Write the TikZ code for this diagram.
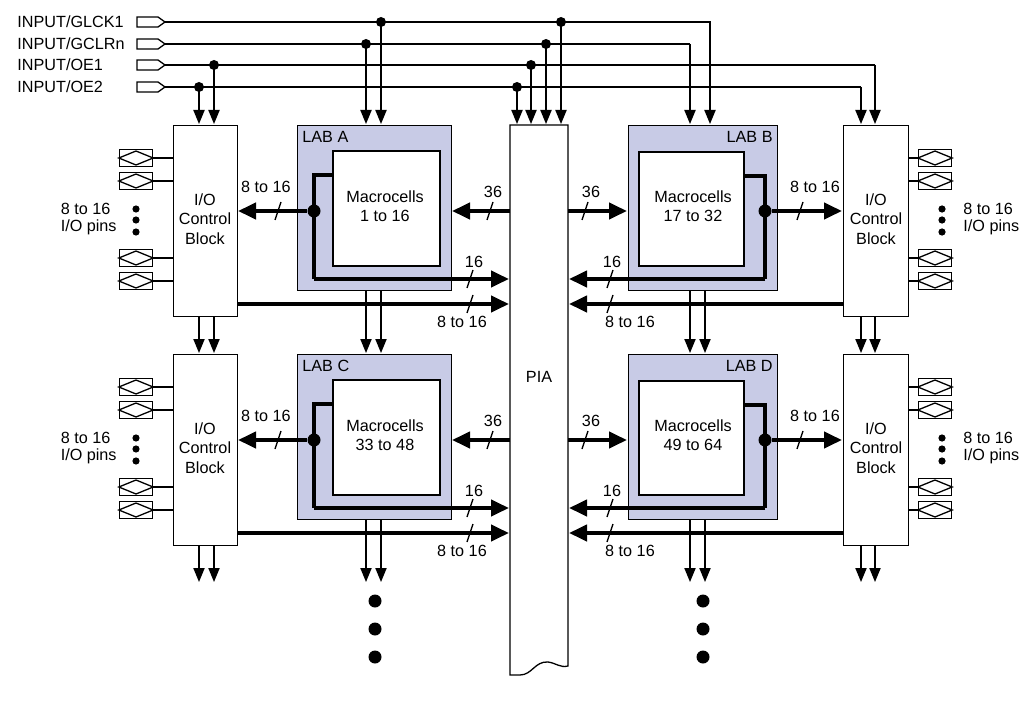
\documentclass[tikz,border=0pt]{standalone}
\usepackage{fontspec}
\setmainfont{Liberation Sans}
\usetikzlibrary{arrows.meta}
\definecolor{labfill}{RGB}{200,203,230}
\begin{document}
\begin{tikzpicture}[x=0.5pt,y=-0.5pt,
  every node/.style={font=\fontsize{8.1}{9}\selectfont, inner sep=0pt},
  thin line/.style={line width=0.65pt},
  sig/.style={thin line,-{Triangle[length=7pt,width=5.6pt]}},
  bus/.style={line width=2pt,-{Triangle[length=9pt,width=8pt]}},
  busline/.style={line width=2pt},
  box/.style={draw,thin line,fill=white},
  lab/.style={draw,thin line,fill=labfill},
  jn/.style={circle,fill,inner sep=0pt,minimum size=5pt},
  bigdot/.style={circle,fill,inner sep=0pt,minimum size=6.5pt},
  pinbuf/.style={draw,thin line,minimum width=16.5pt,minimum height=8.5pt}]
\useasboundingbox (0,0) rectangle (1034,701);
% inputs
\foreach \y/\t/\n in {22/INPUT\slash GLCK1/a,44/INPUT\slash GCLRn/b,65/INPUT\slash OE1/c,87/INPUT\slash OE2/d}{
  \node[anchor=west] (lbl\n) at (17,\y) {\t};
  \draw[thin line] (137,\y-5) -- (158,\y-5) -- (165,\y) -- (158,\y+5) -- (137,\y+5) -- cycle;
  \coordinate (in\n) at (165,\y);
}
% PIA
\draw[thin line,fill=white] (510,125) -- (510,675) -- (520,675) .. controls (532,675) and (535,661) .. (548,662) .. controls (556,663) and (560,668) .. (568,666) -- (568,125) -- cycle;
\node (pia) at (539,377) {PIA};
% input routing
\draw[thin line] (ina) -- (710,22) -- (710,60);
\draw[sig] (710,60) -- (710,124);
\draw[thin line] (inb) -- (690,44);
\draw[sig] (690,44) -- (690,124);
\draw[thin line] (inc) -- (875,65);
\draw[sig] (875,65) -- (875,124);
\draw[thin line] (ind) -- (861,87);
\draw[sig] (861,87) -- (861,124);
\foreach \x/\y in {381/22,366/44,214/65,199/87,561/22,546/44,531/65,517/87}{
  \node[jn] at (\x,\y) {};
  \draw[sig] (\x,\y) -- (\x,124);
}
% rows
\foreach \dy/\l/\r/\ml/\mr [count=\i] in {0/A/B/1 to 16/17 to 32,229/C/D/33 to 48/49 to 64}{
 \begin{scope}[yshift=-\dy*0.5pt]
  \node[box,minimum width=32pt,minimum height=95.5pt,anchor=north west] (iocL\i) at (173,125) {};
  \node[align=center,font=\fontsize{8.1}{9.8}\selectfont] at (205,219) {I/O\\Control\\Block};
  \node[box,minimum width=32.5pt,minimum height=95.5pt,anchor=north west] (iocR\i) at (843,125) {};
  \node[align=center,font=\fontsize{8.1}{9.8}\selectfont] at (876,219) {I/O\\Control\\Block};
  \foreach \py in {158,181,258,281}{
    \node[pinbuf] (pl\i\py) at (136,\py) {};
    \draw[thin line] (pl\i\py.west) -- (136,\py-7) -- (pl\i\py.east) -- (136,\py+7) -- cycle;
    \draw[thin line] (pl\i\py.east) -- (173,\py);
    \node[pinbuf] (pr\i\py) at (935,\py) {};
    \draw[thin line] (pr\i\py.west) -- (935,\py-7) -- (pr\i\py.east) -- (935,\py+7) -- cycle;
    \draw[thin line] (908,\py) -- (pr\i\py.west);
  }
  \foreach \py in {209,220,232}{\node[circle,fill,minimum size=3.6pt] at (136,\py) {}; \node[circle,fill,minimum size=3.6pt] at (942,\py) {};}
  \node[align=left,anchor=east,font=\fontsize{8.1}{8.8}\selectfont] at (117,219) {8 to 16\\I/O pins};
  \node[align=left,anchor=west,font=\fontsize{8.1}{8.8}\selectfont] at (963,219) {8 to 16\\I/O pins};
  \node[lab,minimum width=77pt,minimum height=82.5pt,anchor=north west] (lab\l) at (297,125) {};
  \node[draw,line width=1pt,fill=white,minimum width=53.5pt,minimum height=57.5pt,anchor=north west] (mc\l) at (332,150) {};
  \node[align=center,font=\fontsize{8.1}{9.6}\selectfont] at (385,206) {Macrocells\\\ml};
  \node[anchor=north west] at (302,131) {LAB \l};
  \node[lab,minimum width=74.5pt,minimum height=82.5pt,anchor=north west] (lab\r) at (628,125) {};
  \node[draw,line width=1pt,fill=white,minimum width=52.5pt,minimum height=57pt,anchor=north west] (mc\r) at (638,151) {};
  \node[align=center,font=\fontsize{8.1}{9.6}\selectfont] at (693,206) {Macrocells\\\mr};
  \node[anchor=north east] at (773,131) {LAB \r};
  \draw[busline] (332,175) -- (314,175) -- (314,279);
  \draw[bus] (314,279) -- (509,279);
  \node[bigdot] (dl\i) at (314,211) {};
  \draw[bus] (dl\i) -- (238,211);
  \draw[bus] (510,211) -- (452,211);
  \draw[bus] (237,304) -- (509,304);
  \node[anchor=south] at (266,193) {8 to 16};
  \node[anchor=south] at (493,198) {36};
  \node[anchor=south] at (474,268) {16};
  \node[anchor=north] at (462,316) {8 to 16};
  \draw[busline] (743,176) -- (765,176) -- (765,279);
  \draw[bus] (765,279) -- (569,279);
  \node[bigdot] (dr\i) at (765,211) {};
  \draw[bus] (dr\i) -- (842,211);
  \draw[bus] (568,211) -- (627,211);
  \draw[bus] (843,304) -- (569,304);
  \node[anchor=south] at (815,193) {8 to 16};
  \node[anchor=south] at (591,198) {36};
  \node[anchor=south] at (612,268) {16};
  \node[anchor=north] at (630,316) {8 to 16};
  \foreach \x/\y in {278/211,490/211,470/279,470/304,585/211,800/211,610/279,610/304}{
    \draw[thin line] (\x-3,\y+9) -- (\x+3,\y-9);
  }
  \foreach \x in {199,214}{\draw[sig] (\x,316) -- (\x,353);}
  \foreach \x in {366,381}{\draw[sig] (\x,290) -- (\x,353);}
  \foreach \x in {690,705}{\draw[sig] (\x,290) -- (\x,353);}
  \foreach \x in {861,875}{\draw[sig] (\x,316) -- (\x,353);}
 \end{scope}
}
\foreach \x in {375,703}{\foreach \y in {601,629,657}{\node[bigdot] at (\x,\y) {};}}
\end{tikzpicture}
\end{document}
